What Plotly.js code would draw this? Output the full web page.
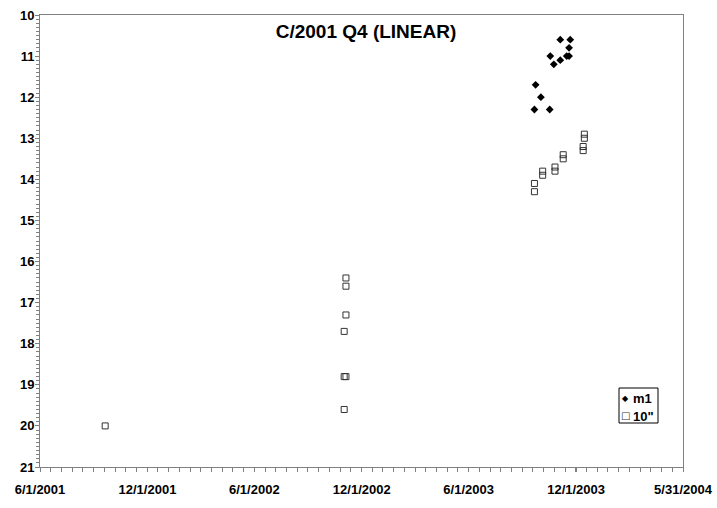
<!DOCTYPE html>
<html>
<head>
<meta charset="utf-8">
<script src="https://cdn.plot.ly/plotly-3.0.1.min.js"></script>
<style>html,body{margin:0;padding:0;background:#fff;}#chart{width:717px;height:508px;}</style>
</head>
<body>
<div id="chart"></div>
<script>
// m1 observations (filled diamonds)
const m1Dates = ['2003-09-21','2003-09-23','2003-10-02','2003-10-17','2003-10-18','2003-10-24','2003-11-04','2003-11-04','2003-11-15','2003-11-19','2003-11-19','2003-11-21'];
const m1Mags  = [12.3, 11.7, 12.0, 12.3, 11.0, 11.2, 10.6, 11.1, 11.0, 11.0, 10.8, 10.6];

// 10" observations (open squares)
const tenDates = ['2001-09-20','2002-11-04','2002-11-04','2002-11-04','2002-11-01','2002-11-01','2002-11-04','2002-11-01',
                  '2003-09-21','2003-09-21','2003-10-05','2003-10-05','2003-10-26','2003-10-26','2003-11-09','2003-11-09',
                  '2003-12-15','2003-12-15','2003-12-13','2003-12-13'];
const tenMags  = [20.0, 16.4, 16.6, 17.3, 17.7, 18.8, 18.8, 19.6,
                  14.1, 14.3, 13.8, 13.9, 13.7, 13.8, 13.4, 13.5,
                  12.9, 13.0, 13.2, 13.3];

const xTickVals = ['2001-06-01','2001-12-01','2002-06-01','2002-12-01','2003-06-01','2003-12-01','2004-05-31'];
const xTickText = ['6/1/2001','12/1/2001','6/1/2002','12/1/2002','6/1/2003','12/1/2003','5/31/2004'];

const seriesNames = ['m1', '10"'];

const FONT = 'Arial, "Liberation Sans", sans-serif';

const traces = [
  {x: m1Dates, y: m1Mags, name: seriesNames[0], type: 'scatter', mode: 'markers',
   marker: {symbol: 'diamond', size: 6, color: '#000'}},
  {x: tenDates, y: tenMags, name: seriesNames[1], type: 'scatter', mode: 'markers',
   marker: {symbol: 'square-open', size: 6, color: '#333', line: {width: 1, color: '#333'}}}
];

// plot-area geometry helpers for the compact legend box (paper coordinates)
const L = 40, R = 683, T = 15, B = 467;
const px = v => (v - L) / (R - L);
const py = v => (B - v) / (B - T);

const DAY = 86400000;
const layout = {
  width: 717, height: 508,
  margin: {l: L, r: 717 - R, t: T, b: 508 - B},
  paper_bgcolor: '#fff', plot_bgcolor: '#fff',
  showlegend: false,
  title: {text: '<b>C/2001 Q4 (LINEAR)</b>', font: {family: FONT, size: 19, color: '#000'},
          x: 366/717, xref: 'container', xanchor: 'center', y: 1 - 31/508, yref: 'container', yanchor: 'middle'},
  xaxis: {type: 'date', range: ['2001-06-01', '2004-05-31'],
          tickmode: 'array', tickvals: xTickVals, ticktext: xTickText,
          ticks: 'outside', ticklen: 4, tickcolor: '#808080', tickwidth: 1,
          ticklabelstandoff: 6,
          showgrid: false, zeroline: false,
          showline: true, linecolor: '#808080', linewidth: 1, mirror: true,
          tickfont: {family: FONT, size: 13, color: '#000', weight: 'bold'},
          minor: {tick0: '2001-06-01', dtick: 18.25 * DAY, ticks: 'outside', ticklen: 4, tickcolor: '#808080', showgrid: false}},
  yaxis: {range: [21, 10], tick0: 10, dtick: 1,
          ticks: 'outside', ticklen: 4, tickcolor: '#808080', tickwidth: 1,
          ticklabelstandoff: -2,
          showgrid: false, zeroline: false,
          showline: true, linecolor: '#808080', linewidth: 1, mirror: true,
          tickfont: {family: FONT, size: 13, color: '#000', weight: 'bold'},
          minor: {dtick: 0.1, ticks: 'outside', ticklen: 3, tickcolor: '#808080', showgrid: false}},
  shapes: [
    {type: 'rect', xref: 'paper', yref: 'paper', x0: px(619), x1: px(658), y0: py(388), y1: py(423),
     line: {color: '#000', width: 1}, fillcolor: '#fff', layer: 'above'}
  ],
  annotations: [
    {xref: 'paper', yref: 'paper', x: px(625), y: py(398), xanchor: 'center', yanchor: 'middle', showarrow: false,
     text: '◆', font: {family: 'DejaVu Sans', size: 8, color: '#000'}},
    {xref: 'paper', yref: 'paper', x: px(631), y: py(398), xanchor: 'left', yanchor: 'middle', showarrow: false,
     text: '<b>' + seriesNames[0] + '</b>', font: {family: FONT, size: 13, color: '#000'}},
    {xref: 'paper', yref: 'paper', x: px(625), y: py(415), xanchor: 'center', yanchor: 'middle', showarrow: false,
     text: '□', font: {family: 'DejaVu Sans', size: 10, color: '#333'}},
    {xref: 'paper', yref: 'paper', x: px(631), y: py(416), xanchor: 'left', yanchor: 'middle', showarrow: false,
     text: '<b>' + seriesNames[1] + '</b>', font: {family: FONT, size: 13, color: '#000'}}
  ]
};

Plotly.newPlot('chart', traces, layout, {displayModeBar: false, staticPlot: true});
</script>
</body>
</html>
